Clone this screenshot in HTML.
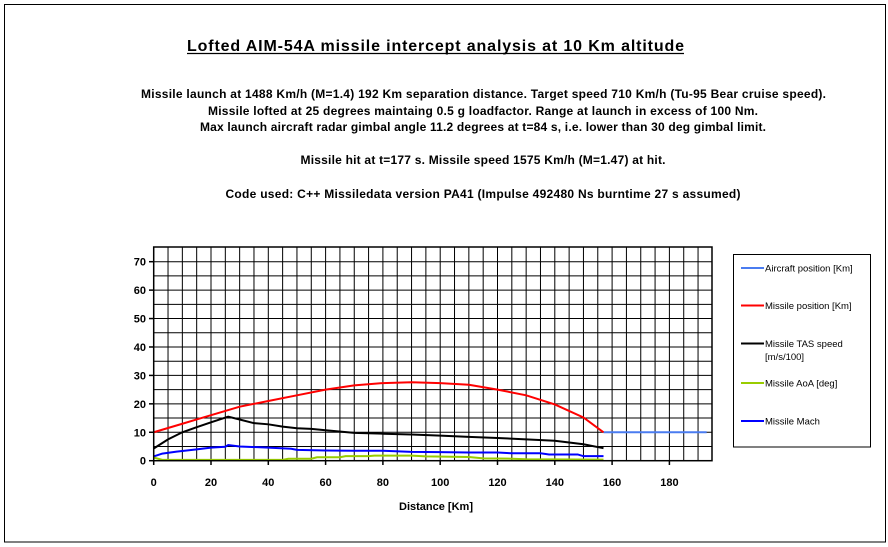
<!DOCTYPE html>
<html><head><meta charset="utf-8"><style>
body{margin:0;background:#fff;}
svg{display:block;font-family:"Liberation Sans",Arial,sans-serif;}
</style></head><body>
<svg width="888" height="547" viewBox="0 0 888 547" xmlns="http://www.w3.org/2000/svg">
<rect x="4.5" y="4.5" width="881" height="537.5" fill="#fff" stroke="#000" stroke-width="1"/>
<text x="435.5" y="51" font-size="16" font-weight="bold" text-anchor="middle" textLength="497" lengthAdjust="spacing">Lofted AIM-54A missile intercept analysis at 10 Km altitude</text>
<line x1="187" y1="53.5" x2="684" y2="53.5" stroke="#000" stroke-width="1.3"/>
<g font-size="12" font-weight="bold" text-anchor="middle">
<text x="483.5" y="98" textLength="685" lengthAdjust="spacing">Missile launch at 1488 Km/h (M=1.4) 192 Km separation distance. Target speed 710 Km/h (Tu-95 Bear cruise speed).</text>
<text x="483" y="115" textLength="550" lengthAdjust="spacing">Missile lofted at 25 degrees maintaing 0.5  g loadfactor. Range at launch in excess of 100 Nm.</text>
<text x="483" y="131" textLength="566" lengthAdjust="spacing">Max launch aircraft radar gimbal angle 11.2 degrees at t=84 s, i.e. lower than 30 deg gimbal limit.</text>
<text x="483" y="164" textLength="365" lengthAdjust="spacing">Missile hit at t=177 s. Missile speed 1575 Km/h (M=1.47) at hit.</text>
<text x="483" y="198" textLength="515" lengthAdjust="spacing">Code used: C++ Missiledata version  PA41 (Impulse 492480 Ns burntime 27 s assumed)</text>
</g>
<g id="grid" stroke="#000" stroke-width="1"></g>
<g transform="translate(153.7,460.7) scale(2.865,-2.843)" fill="none" stroke-width="2">
<polyline vector-effect="non-scaling-stroke" stroke="#4a7cf0" points="157,10 193,10"/>
<polyline vector-effect="non-scaling-stroke" stroke="#ff0000" points="0,10 5,11.5 10,13 15,14.5 20,16 25,17.5 30,19 40,21 50,23 60,25 70,26.5 80,27.3 90,27.6 100,27.3 110,26.7 120,25 130,23 140,19.8 150,15.2 157,10"/>
<polyline vector-effect="non-scaling-stroke" stroke="#000" points="0,4.3 5,7.5 10,10 15,11.8 20,13.5 26,15.5 30,14.5 35,13.2 40,12.8 45,12 50,11.4 55,11.2 60,10.7 70,9.8 80,9.5 90,9.2 100,8.8 110,8.4 120,8 130,7.5 140,7 150,5.8 157,4.4"/>
<polyline vector-effect="non-scaling-stroke" stroke="#0000ff" points="0,1.5 3,2.5 8,3.2 15,4 20,4.6 25,4.9 26,5.5 30,5 40,4.6 48,4.2 50,3.8 60,3.6 70,3.5 80,3.5 90,3.1 100,3 110,2.9 120,2.9 125,2.6 135,2.6 138,2.2 148,2.2 150,1.6 157,1.6"/>
<polyline vector-effect="non-scaling-stroke" stroke="#99cc00" points="0,1.1 3,0.3 45,0.3 47,0.7 55,0.7 57,1.2 65,1.2 67,1.6 75,1.6 77,1.8 90,1.8 95,1.5 110,1.3 115,0.8 125,0.7 130,0.5 157,0.4"/>
</g>
<rect x="153.7" y="247" width="558.3" height="213.7" fill="none" stroke="#000" stroke-width="1.5"/>
<g font-size="11" font-weight="bold" text-anchor="end" id="ylab"></g>
<g font-size="11" font-weight="bold" text-anchor="middle" id="xlab"></g>
<text x="436" y="510" font-size="11" font-weight="bold" text-anchor="middle">Distance [Km]</text>
<rect x="733.5" y="254.5" width="137" height="192.5" fill="#fff" stroke="#000" stroke-width="1"/>
<g stroke-width="2">
<line x1="741" y1="268" x2="764" y2="268" stroke="#4a7cf0"/>
<line x1="741" y1="305.5" x2="764" y2="305.5" stroke="#ff0000"/>
<line x1="741" y1="343.5" x2="764" y2="343.5" stroke="#000"/>
<line x1="741" y1="383" x2="764" y2="383" stroke="#99cc00"/>
<line x1="741" y1="421" x2="764" y2="421" stroke="#0000ff"/>
</g>
<g font-size="9.5">
<text x="765" y="271.5">Aircraft position [Km]</text>
<text x="765" y="309">Missile position [Km]</text>
<text x="765" y="347">Missile TAS speed</text>
<text x="765" y="360">[m/s/100]</text>
<text x="765" y="386.5">Missile AoA [deg]</text>
<text x="765" y="424.5">Missile Mach</text>
</g>
<script>
var g=document.getElementById('grid'),ns='http://www.w3.org/2000/svg';
function L(a,b,c,d,w){var l=document.createElementNS(ns,'line');l.setAttribute('x1',a);l.setAttribute('y1',b);l.setAttribute('x2',c);l.setAttribute('y2',d);if(w)l.setAttribute('stroke-width',w);g.appendChild(l);}
for(var v=5;v<195;v+=5){var x=153.7+v*2.865;L(x,247,x,460.7);}
for(var v=5;v<75;v+=5){var y=460.7-v*2.843;L(153.7,y,712,y);}
var yl=document.getElementById('ylab'),xl=document.getElementById('xlab');
for(var v=0;v<=70;v+=10){var y=460.7-v*2.843;L(149,y,153.7,y,1.5);var t=document.createElementNS(ns,'text');t.setAttribute('x',146);t.setAttribute('y',y+4);t.textContent=v;yl.appendChild(t);}
for(var v=0;v<=180;v+=20){var x=153.7+v*2.865;L(x,460.7,x,465,1.5);var t=document.createElementNS(ns,'text');t.setAttribute('x',x);t.setAttribute('y',486);t.textContent=v;xl.appendChild(t);}
</script>
</svg>
</body></html>
